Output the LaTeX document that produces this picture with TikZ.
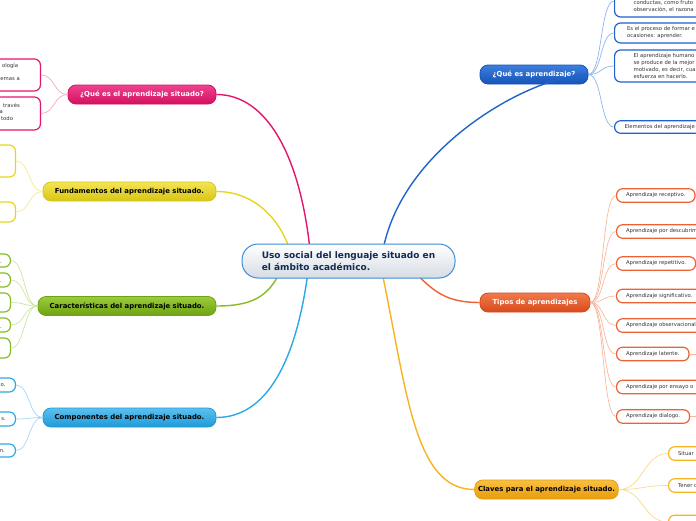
\documentclass[tikz,border=0pt]{standalone}
\usepackage{fontspec}
\setmainfont{DejaVu Sans}
\usepackage{tikz}
\usetikzlibrary{calc, positioning}

\definecolor{rosaA}{HTML}{F0428F}
\definecolor{rosaB}{HTML}{D3105F}
\definecolor{rosaH}{HTML}{E5156D}
\definecolor{rosaL}{HTML}{F7A6C6}
\definecolor{amaA}{HTML}{F2E555}
\definecolor{amaB}{HTML}{D9C514}
\definecolor{amaH}{HTML}{E8D51E}
\definecolor{amaL}{HTML}{F3EA92}
\definecolor{verA}{HTML}{9BCB3A}
\definecolor{verB}{HTML}{6EA312}
\definecolor{verH}{HTML}{85BC22}
\definecolor{verL}{HTML}{CDE4A2}
\definecolor{cianA}{HTML}{5CC0F0}
\definecolor{cianB}{HTML}{1E9AD8}
\definecolor{cianH}{HTML}{2DA8E6}
\definecolor{cianL}{HTML}{A4D9F5}
\definecolor{azuA}{HTML}{3D7FDC}
\definecolor{azuB}{HTML}{1553B8}
\definecolor{azuH}{HTML}{1E63CC}
\definecolor{azuL}{HTML}{8EB5EC}
\definecolor{narA}{HTML}{F07A4C}
\definecolor{narB}{HTML}{D94A1C}
\definecolor{narH}{HTML}{EC6233}
\definecolor{narL}{HTML}{F8B8A0}
\definecolor{oroA}{HTML}{F8C043}
\definecolor{oroB}{HTML}{E89C0C}
\definecolor{oroH}{HTML}{F6B322}
\definecolor{oroL}{HTML}{FAD98A}
\definecolor{centroBorde}{HTML}{3E8CD3}
\definecolor{centroFondo}{HTML}{D5DCE3}
\definecolor{centroTexto}{HTML}{142A55}
\definecolor{gristexto}{HTML}{333333}

\begin{document}
\begin{tikzpicture}[x=1pt, y=-1pt,
    tema/.style={rounded corners=8, minimum height=19, line width=0.8,
        font=\fontsize{6.9}{8}\selectfont\bfseries},
    hoja/.style={draw, fill=white, rounded corners=6, line width=1.2, anchor=west,
        align=left, inner xsep=9.5, inner ysep=2, minimum height=13.5,
        font=\fontsize{5.3}{7}\selectfont, text=gristexto},
    frag/.style={anchor=east, inner sep=0, font=\fontsize{5.3}{7}\selectfont, text=gristexto},
    eje/.style={line width=1.4},
    rama/.style={line width=0.7}]
    % 1. Marco
    \useasboundingbox (0,0) rectangle (696,520);
    \clip (0,0) rectangle (696,520);

    % 2. Temas principales
    \node[tema, top color=rosaA, bottom color=rosaB, draw=rosaB, text=white, minimum width=148] (qas) at (142,94.5) {¿Qué es el aprendizaje situado?};
    \node[tema, top color=amaA, bottom color=amaB, draw=amaB, text=black, minimum width=173] (fund) at (129.5,191.5) {Fundamentos del aprendizaje situado.};
    \node[tema, top color=verA, bottom color=verB, draw=verB, text=black, minimum width=178] (cara) at (127,306) {Características del aprendizaje situado.};
    \node[tema, top color=cianA, bottom color=cianB, draw=cianB, text=black, minimum width=173] (comp) at (129.5,417.5) {Componentes del aprendizaje situado.};
    \node[tema, top color=azuA, bottom color=azuB, draw=azuB, text=white, minimum width=108] (qa) at (534,74.5) {¿Qué es aprendizaje?};
    \node[tema, top color=narA, bottom color=narB, draw=narB, text=white, minimum width=110] (tipos) at (535,302.5) {Tipos de aprendizajes};
    \node[tema, top color=oroA, bottom color=oroB, draw=oroB, text=black, minimum width=133] (claves) at (546.5,489.5) {Claves para el aprendizaje situado.};

    % 3. Hojas de la izquierda
    \node[hoja, draw=rosaH, anchor=east, minimum width=80, minimum height=32] (q1) at (41,75) {};
    \node[hoja, draw=rosaH, anchor=east, minimum width=80, minimum height=33] (q2) at (41,113.5) {};
    \node[frag] (q1a) at (18.3,65.7) {ología};
    \node[frag] (q1b) at (20,79) {emas a};
    \node[frag] (q2a) at (20,105) {través};
    \node[frag] (q2b) at (3,111.7) {a};
    \node[frag] (q2c) at (13.3,118.3) {todo};

    \node[hoja, draw=amaH, anchor=east, minimum width=60, minimum height=32] (f1) at (16,161) {};
    \node[hoja, draw=amaH, anchor=east, minimum width=60, minimum height=20] (f2) at (16,212) {};

    \node[hoja, draw=verH, anchor=east, minimum width=60, minimum height=13] (c1) at (11,260.5) {};
    \node[hoja, draw=verH, anchor=east, minimum width=60, minimum height=14] (c2) at (11,280) {};
    \node[hoja, draw=verH, anchor=east, minimum width=60, minimum height=19] (c3) at (11,302.5) {};
    \node[hoja, draw=verH, anchor=east, minimum width=60, minimum height=14] (c4) at (11,325) {};
    \node[hoja, draw=verH, anchor=east, minimum width=60, minimum height=20] (c5) at (11,348) {};
    \node[frag] (c1a) at (2,263) {.};
    \node[frag] (c2a) at (2,282) {.};
    \node[frag] (c4a) at (2,328) {.};

    \node[hoja, draw=cianH, anchor=east, minimum width=60, minimum height=14] (m1) at (16,385) {};
    \node[hoja, draw=cianH, anchor=east, minimum width=60, minimum height=14] (m2) at (16,419) {};
    \node[hoja, draw=cianH, anchor=east, minimum width=60, minimum height=13] (m3) at (16,450.5) {};
    \node[frag] (m1a) at (5.7,385.5) {o.};
    \node[frag] (m2a) at (6,419.5) {s.};
    \node[frag] (m3a) at (5,451) {n.};

    % 4. Hojas de la derecha
    \node[hoja, draw=azuH, inner xsep=19, minimum height=32] (b1) at (614,1) {\mbox{}\\\mbox{}\\conductas, como fruto\\observación, el razona};
    \node[hoja, draw=azuH, inner xsep=12.5, minimum height=20] (b2) at (614,33) {Es el proceso de formar e\\ocasiones: aprender.};
    \node[hoja, draw=azuH, inner xsep=19, minimum height=32] (b3) at (614,66) {El aprendizaje humano\\se produce de la mejor\\motivado, es decir, cua\\esfuerza en hacerlo.};
    \node[hoja, draw=azuH, inner xsep=10, minimum height=12.5] (b4) at (614,127) {Elementos del aprendizaje};

    \node[hoja, draw=narH] (t1) at (616,195.5) {Aprendizaje receptivo.};
    \node[hoja, draw=narH] (t2) at (616,231.5) {Aprendizaje por descubrimi};
    \node[hoja, draw=narH] (t3) at (616,263.5) {Aprendizaje repetitivo.};
    \node[hoja, draw=narH] (t4) at (616,296) {Aprendizaje significativo.};
    \node[hoja, draw=narH] (t5) at (616,325.5) {Aprendizaje observacional.};
    \node[hoja, draw=narH] (t6) at (616,354) {Aprendizaje latente.};
    \node[hoja, draw=narH] (t7) at (616,387) {Aprendizaje por ensayo o};
    \node[hoja, draw=narH] (t8) at (616,416.5) {Aprendizaje dialogo.};
    \coordinate (t6x) at (700,354);
    \coordinate (t8x) at (700,416.5);

    \node[hoja, draw=oroH] (k1) at (668,453.5) {Situar};
    \node[hoja, draw=oroH] (k2) at (668,485.5) {Tener c};
    \node[hoja, draw=oroH, minimum width=40] (k3) at (668,522) {};

    % 5. Ramas finas
    \foreach \h in {q1,q2}
        \draw[rama, rosaL] (qas.west) .. controls +(-14,0) and +(14,0) .. (\h.east);
    \foreach \h in {f1,f2}
        \draw[rama, amaL] (fund.west) .. controls +(-14,0) and +(14,0) .. (\h.east);
    \foreach \h in {c1,c2,c3,c4,c5}
        \draw[rama, verL] (cara.west) .. controls +(-14,0) and +(14,0) .. (\h.east);
    \foreach \h in {m1,m2,m3}
        \draw[rama, cianL] (comp.west) .. controls +(-14,0) and +(14,0) .. (\h.east);
    \foreach \h in {b1,b2,b3,b4}
        \draw[rama, azuL] (qa.east) .. controls +(14,0) and +(-14,0) .. (\h.west);
    \foreach \h in {t1,t2,t3,t4,t5,t6,t7,t8}
        \draw[rama, narL] (tipos.east) .. controls +(14,0) and +(-14,0) .. (\h.west);
    \foreach \h in {k1,k2,k3}
        \draw[rama, oroL] (claves.east) .. controls +(25,0) and +(-25,0) .. (\h.west);
    \draw[rama, narL] (t6.east) -- (t6x);
    \draw[rama, narL] (t8.east) -- (t8x);

    % 6. Ejes desde el centro
    \coordinate (pRosa) at (310,250);
    \coordinate (pAma) at (290,250);
    \coordinate (pVer) at (280,272);
    \coordinate (pCian) at (308,272);
    \coordinate (pAzu) at (383,250);
    \coordinate (pNar) at (415,272);
    \coordinate (pOro) at (382,272);
    \draw[eje, rosaH] (pRosa) .. controls +(-10,-95) and +(50,0) .. (qas.east);
    \draw[eje, amaH] (pAma) .. controls +(-12,-35) and +(35,0) .. (fund.east);
    \draw[eje, verH] (pVer) .. controls +(-12,25) and +(35,0) .. (cara.east);
    \draw[eje, cianH] (pCian) .. controls +(-12,90) and +(50,0) .. (comp.east);
    \draw[eje, azuH] (pAzu) .. controls +(20,-105) and +(-55,0) .. (qa.east);
    \draw[eje, narH] (pNar) .. controls +(20,22) and +(-30,0) .. (tipos.west);
    \draw[eje, oroH] (pOro) .. controls +(25,120) and +(-60,0) .. (claves.west);

    % 7. Nodo central
    \node[draw=centroBorde, line width=1, rounded corners=16, minimum width=213, minimum height=34,
        top color=white, bottom color=centroFondo, align=left, text=centroTexto,
        font=\fontsize{9}{11.7}\selectfont\bfseries] (central) at (348.5,261)
        {Uso social del lenguaje situado en\\el ámbito académico.};
\end{tikzpicture}
\end{document}
